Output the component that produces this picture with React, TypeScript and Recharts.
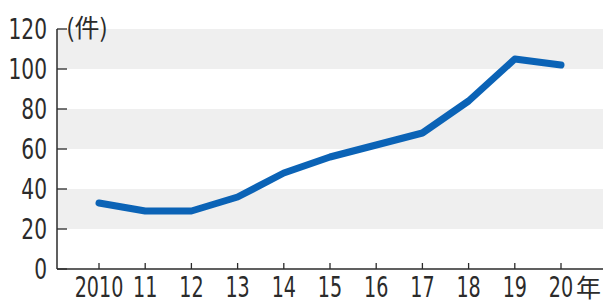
import { LineChart, Line, XAxis, YAxis, CartesianGrid } from "recharts";

const years = ["2010", "11", "12", "13", "14", "15", "16", "17", "18", "19", "20"];
const counts = [33, 29, 29, 36, 48, 56, 62, 68, 84, 105, 102];
const yTicks = [0, 20, 40, 60, 80, 100, 120];

const data = years.map((y, i) => ({ year: y, count: counts[i] }));

const FONT = "'DejaVu Sans Condensed', 'Liberation Sans Narrow', sans-serif";
const CJK = "'Noto Sans CJK JP', sans-serif";
const INK = "#2b2b2b";

function YTick({ x, y, payload }: any) {
  const v = payload.value;
  return (
    <g>
      <line x1={x} y1={y} x2={x + 10} y2={y} stroke={INK} strokeWidth={1.3} />
      <text
        transform={`translate(${x - 10} ${y + 10}) scale(0.8 1)`}
        textAnchor="end"
        fontFamily={FONT}
        fontSize={28}
        fill={INK}
      >
        {v}
      </text>
      {v === 120 && (
        <text x={x + 9} y={y + 8} fontFamily={CJK} fontSize={25} fill={INK}>
          (件)
        </text>
      )}
    </g>
  );
}

function XTick({ x, y, payload, index }: any) {
  const s = String(payload.value);
  const last = index === years.length - 1;
  return (
    <g>
      <line x1={x} y1={y} x2={x} y2={y - 6} stroke={INK} strokeWidth={1.3} />
      <text
        transform={`translate(${x} ${y + 28}) scale(0.76 1)`}
        textAnchor="middle"
        fontFamily={FONT}
        fontSize={28}
        fill={INK}
      >
        {s}
      </text>
      {last && (
        <text x={x + 15} y={y + 28} fontFamily={CJK} fontSize={25} fill={INK}>
          年
        </text>
      )}
    </g>
  );
}

export default function App() {
  return (
    <div style={{ position: "absolute", left: 0, top: 0, background: "#fff" }}>
      <LineChart width={607} height={304} data={data} margin={{ top: 29, right: 4, bottom: 0, left: 0 }}>
        <CartesianGrid vertical={false} stroke="none" horizontalFill={["#efefef", "#ffffff"]} fillOpacity={1} />
        <XAxis
          dataKey="year"
          height={35}
          interval={0}
          padding={{ left: 42, right: 42 }}
          tickSize={0}
          tickMargin={0}
          tickLine={false}
          axisLine={{ stroke: INK, strokeWidth: 1.5 }}
          tick={<XTick />}
        />
        <YAxis
          width={57}
          domain={[0, 120]}
          ticks={yTicks}
          interval={0}
          tickSize={0}
          tickMargin={0}
          tickLine={false}
          axisLine={{ stroke: INK, strokeWidth: 1.5 }}
          tick={<YTick />}
        />
        <Line
          type="linear"
          dataKey="count"
          stroke="#0b63b6"
          strokeWidth={7}
          strokeLinecap="round"
          strokeLinejoin="round"
          dot={false}
          isAnimationActive={false}
        />
      </LineChart>
    </div>
  );
}
